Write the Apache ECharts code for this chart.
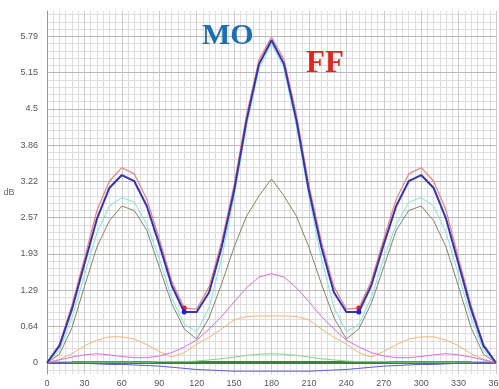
<!DOCTYPE html>
<html>
<head>
<meta charset="utf-8">
<script src="https://cdn.jsdelivr.net/npm/echarts@6/dist/echarts.min.js"></script>
<style>
    html, body { margin: 0; padding: 0; background: #fff; }
    #chart { width: 499px; height: 389px; }
</style>
</head>
<body>
<div id="chart"></div>
<script>
// angle, every 10 degrees
const angles = [0, 10, 20, 30, 40, 50, 60, 70, 80, 90, 100, 110, 120, 130, 140, 150, 160, 170, 180,
    190, 200, 210, 220, 230, 240, 250, 260, 270, 280, 290, 300, 310, 320, 330, 340, 350, 360]

const moValues = [0, 0.3, 0.95, 1.75, 2.55, 3.1, 3.33, 3.22, 2.78, 2.1, 1.37, 0.9, 0.9, 1.25, 2.05, 3.05, 4.3, 5.3, 5.72,
    5.3, 4.3, 3.05, 2.05, 1.25, 0.9, 0.9, 1.37, 2.1, 2.78, 3.22, 3.33, 3.1, 2.55, 1.75, 0.95, 0.3, 0]
const ffValues = [0, 0.33, 1.02, 1.85, 2.7, 3.22, 3.46, 3.35, 2.9, 2.2, 1.45, 0.97, 0.95, 1.35, 2.15, 3.15, 4.4, 5.38, 5.78,
    5.38, 4.4, 3.15, 2.15, 1.35, 0.95, 0.97, 1.45, 2.2, 2.9, 3.35, 3.46, 3.22, 2.7, 1.85, 1.02, 0.33, 0]
const cyanValues = [0, 0.22, 0.8, 1.55, 2.3, 2.78, 2.93, 2.85, 2.45, 1.85, 1.15, 0.68, 0.55, 0.98, 1.85, 2.95, 4.2, 5.22, 5.66,
    5.22, 4.2, 2.95, 1.85, 0.98, 0.55, 0.68, 1.15, 1.85, 2.45, 2.85, 2.93, 2.78, 2.3, 1.55, 0.8, 0.22, 0]
const grayValues = [0, 0.15, 0.62, 1.35, 2.05, 2.52, 2.78, 2.7, 2.35, 1.7, 1.05, 0.6, 0.42, 0.8, 1.4, 2.05, 2.6, 2.96, 3.26,
    2.96, 2.6, 2.05, 1.4, 0.8, 0.42, 0.6, 1.05, 1.7, 2.35, 2.7, 2.78, 2.52, 2.05, 1.35, 0.62, 0.15, 0]
const magentaValues = [0, 0.05, 0.1, 0.14, 0.16, 0.14, 0.11, 0.09, 0.09, 0.12, 0.18, 0.28, 0.4, 0.6, 0.82, 1.08, 1.33, 1.52, 1.58,
    1.52, 1.33, 1.08, 0.82, 0.6, 0.4, 0.28, 0.18, 0.12, 0.09, 0.09, 0.11, 0.14, 0.16, 0.14, 0.1, 0.05, 0]
const orangeValues = [0, 0.06, 0.16, 0.3, 0.4, 0.46, 0.46, 0.42, 0.32, 0.2, 0.1, 0.18, 0.33, 0.45, 0.6, 0.76, 0.82, 0.83, 0.83,
    0.83, 0.82, 0.76, 0.6, 0.45, 0.33, 0.18, 0.1, 0.2, 0.32, 0.42, 0.46, 0.46, 0.4, 0.3, 0.16, 0.06, 0]
const greenValues = [0, 0.01, 0.01, 0.01, 0.01, 0.01, 0.01, 0.01, 0.01, 0.02, 0.02, 0.02, 0.03, 0.05, 0.07, 0.1, 0.13, 0.15, 0.16,
    0.15, 0.13, 0.1, 0.07, 0.05, 0.03, 0.02, 0.02, 0.02, 0.01, 0.01, 0.01, 0.01, 0.01, 0.01, 0.01, 0.01, 0]
const negValues = [0, 0, -0.01, -0.01, -0.02, -0.03, -0.03, -0.04, -0.05, -0.06, -0.08, -0.1, -0.12, -0.13, -0.14, -0.15, -0.15, -0.15, -0.15,
    -0.15, -0.15, -0.15, -0.14, -0.13, -0.12, -0.1, -0.08, -0.06, -0.05, -0.04, -0.03, -0.03, -0.02, -0.01, -0.01, 0, 0]
const darkGreenValues = [null, null, 0.005, 0.005, 0.005, 0.005, 0.005, 0.005, 0.005, 0.005, 0.005, 0.005, 0.005, 0.005, 0.005, 0.005, 0.005, 0.005, 0.005,
    0.005, 0.005, 0.005, 0.005, 0.005, 0.005, 0.005, 0.005, 0.005, 0.005, 0.005, 0.005, 0.005, 0.005, 0.005, 0.005, null, null]
const navyValues = [0, 0, 0, 0, 0, 0, 0, 0, 0, 0, 0, 0, 0, 0, 0, 0, 0, 0, 0,
    0, 0, 0, 0, 0, 0, 0, 0, 0, 0, 0, 0, 0, 0, 0, 0, 0, 0]

// minimum points marked on MO / FF
const minMarkAngles = [110, 250]

const yTickValues = [0, 0.6433, 1.2867, 1.93, 2.5733, 3.2167, 3.86, 4.5033, 5.1467, 5.79]
const yTickLabels = ['0', '0.64', '1.29', '1.93', '2.57', '3.22', '3.86', '4.5', '5.15', '5.79']

const yMin = -0.2
const yMax = 6.24
const yMinorStep = 0.12867

const chart = echarts.init(document.getElementById('chart'))

const pairs = (vals, markColor) => angles.map((a, i) => {
    if (markColor && minMarkAngles.includes(a)) {
        return { value: [a, vals[i]], symbol: 'circle', symbolSize: 5, itemStyle: { color: markColor } }
    }
    return [a, vals[i]]
})

const minorTicks = []
for (let k = -1; k * yMinorStep <= yMax; k++) minorTicks.push(+(k * yMinorStep).toFixed(4))

const line = (name, vals, color, width, z, markColor) => ({
    name,
    type: 'line',
    data: pairs(vals, markColor),
    showSymbol: !!markColor,
    symbol: 'none',
    lineStyle: { color, width },
    itemStyle: { color },
    z,
    silent: true
})

chart.setOption({
    animation: false,
    backgroundColor: '#fff',
    grid: { left: 47, right: 3, top: 11, bottom: 15, outerBoundsMode: 'none', containLabel: false },
    xAxis: [
        {
            type: 'value', min: 0, max: 360, interval: 30,
            axisLine: { show: false },
            axisTick: { show: false },
            axisLabel: { color: '#555', fontSize: 9, fontFamily: 'Liberation Sans', margin: 5, hideOverlap: false },
            splitLine: { lineStyle: { color: '#cbcbcb', width: 1 } },
            z: 2
        },
        {
            type: 'value', min: 0, max: 360, interval: 5,
            axisLine: { show: false }, axisTick: { show: false }, axisLabel: { show: false },
            splitLine: { lineStyle: { color: '#dedede', width: 1 } },
            z: 1
        }
    ],
    yAxis: [
        {
            type: 'value', min: yMin, max: yMax,
            name: 'dB', nameLocation: 'middle', nameGap: 24, nameRotate: 0,
            nameTextStyle: { color: '#666', fontSize: 9, fontFamily: 'Liberation Sans' },
            axisLine: { show: true, lineStyle: { color: '#999', width: 1 } },
            axisTick: { show: false, customValues: yTickValues },
            axisLabel: {
                customValues: yTickValues,
                color: '#555', fontSize: 9, fontFamily: 'Liberation Sans', margin: 9,
                formatter: v => {
                    const i = yTickValues.findIndex(t => Math.abs(t - v) < 1e-3)
                    return i >= 0 ? yTickLabels[i] : ''
                }
            },
            splitLine: { show: true, lineStyle: { color: '#b8b8b8', width: 1 } },
            z: 2
        },
        {
            type: 'value', min: yMin, max: yMax,
            axisLine: { show: false },
            axisTick: { show: false, customValues: minorTicks },
            axisLabel: { show: false },
            splitLine: { show: true, lineStyle: { color: '#dedede', width: 1 } },
            z: 1
        }
    ],
    graphic: [
        {
            type: 'text', left: 202, top: 21, z: 100,
            style: { text: 'MO', fill: '#1d6db3', font: 'bold 30px "Liberation Serif"' }
        },
        {
            type: 'text', left: 306, top: 48, z: 100,
            style: { text: 'FF', fill: '#e3241d', font: 'bold 31px "Liberation Serif"' }
        }
    ],
    series: [
        line('navy', navyValues, '#2b2b66', 2, 3),
        line('darkgreen', darkGreenValues, '#3f7f3f', 3, 4),
        line('green', greenValues, '#86d586', 1, 5),
        line('neg', negValues, '#5b5bbf', 1, 5),
        line('orange', orangeValues, '#f2b574', 1, 6),
        line('magenta', magentaValues, '#df6fdf', 1, 6),
        line('gray', grayValues, '#84846e', 1, 7),
        line('cyan', cyanValues, '#84e2e2', 1, 7),
        line('FF', ffValues, '#f08080', 1.2, 8, '#e31b1b'),
        line('MO', moValues, '#3434b0', 2, 9, '#2222cc')
    ]
})
</script>
</body>
</html>
